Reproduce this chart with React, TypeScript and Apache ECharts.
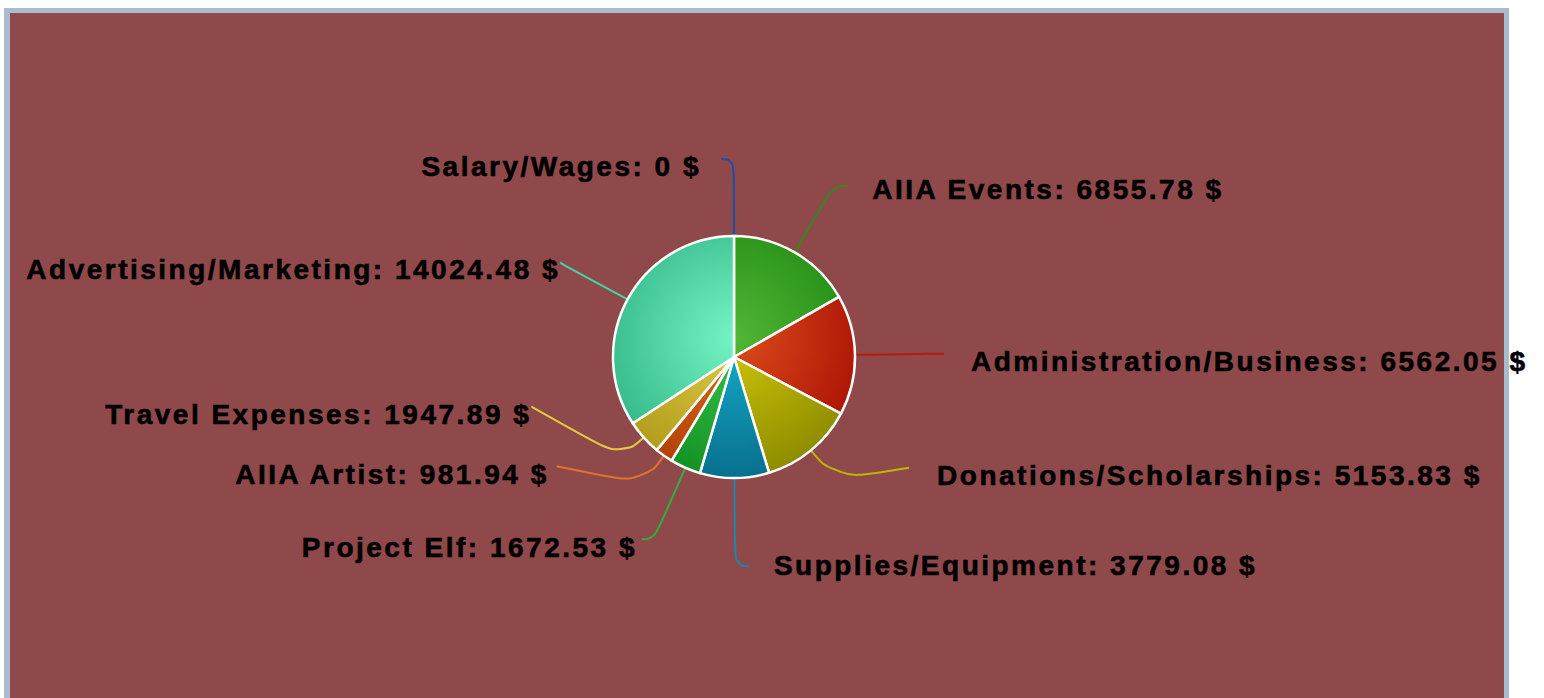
import React, { useEffect, useRef } from "react";
import * as echarts from "echarts";

// ---- data ----
const categories = [
  "Salary/Wages",
  "AIIA Events",
  "Administration/Business",
  "Donations/Scholarships",
  "Supplies/Equipment",
  "Project Elf",
  "AIIA Artist",
  "Travel Expenses",
  "Advertising/Marketing",
];
const amounts = [0, 6855.78, 6562.05, 5153.83, 3779.08, 1672.53, 981.94, 1947.89, 14024.48];
const currency = "$";

// ---- styles ----
const lightColors = ["#3a6ad0", "#52b636", "#dc4c1c", "#cfc708", "#14aecb", "#3cc44c", "#de6a1e", "#ddcd46", "#74f4c4"];
const darkColors = ["#143c96", "#1f8a12", "#aa1204", "#8e8c00", "#08708f", "#139224", "#b24206", "#b39c1c", "#34b888"];
const lineColors = ["#1c4ea8", "#2a8c1c", "#b81c08", "#bcb800", "#1a88a8", "#2cb042", "#e07428", "#e2cc3e", "#44d4a2"];
const lineLen = [77, 77, 77, 38, 88, 78, 35, 30, 71];
const lineLen2 = [13, 14, 12, 74, 14, 12, 87, 90, 5];
const labelGap = [20, 25, 27, 28, 25, 5, 8, 0, 0];
const labelShiftY = [7, 4, 8, -4, 0, 8, -10, -43, 4];
const lineEndShiftY = [0, 0, 0, -12, 0, 0, -18, -51, -3];

export default function App() {
  const ref = useRef<HTMLDivElement>(null);

  useEffect(() => {
    if (!ref.current) return;
    const chart = echarts.init(ref.current, undefined, { renderer: "svg" });
    const cx = 734;
    const cy = 357;
    const data = categories.map((name, i) => ({
      name,
      value: amounts[i],
      itemStyle: {
        color: new echarts.graphic.RadialGradient(
          cx,
          cy - 20,
          140,
          [
            { offset: 0, color: lightColors[i] },
            { offset: 1, color: darkColors[i] },
          ],
          true
        ),
      },
      label: { distanceToLabelLine: labelGap[i] },
      labelLine: {
        length: lineLen[i],
        length2: lineLen2[i],
        lineStyle: { color: lineColors[i], width: 2 },
      },
    }));
    chart.setOption({
      animation: false,
      backgroundColor: "transparent",
      series: [
        {
          type: "pie",
          center: [cx, cy],
          radius: 121,
          startAngle: 90.0001,
          clockwise: true,
          avoidLabelOverlap: false,
          itemStyle: { borderColor: "#ffffff", borderWidth: 2.5 },
          label: {
            show: true,
            position: "outside",
            overflow: "none",
            color: "#000000",
            fontSize: 28,
            fontWeight: "bold",
            fontFamily: "'Liberation Sans', Arial, sans-serif",
            textBorderColor: "#000000",
            textBorderWidth: 0.6,
            formatter: (p: any) => `${p.name}: ${p.value} ${currency}`,
          },
          labelLine: { show: true, smooth: 0.5 },
          labelLayout: (params: any) => {
            const i = params.dataIndex;
            const pts = params.labelLinePoints
              ? params.labelLinePoints.map((p: number[]) => [p[0], p[1]])
              : undefined;
            if (pts && pts.length === 3) {
              pts[2][1] += lineEndShiftY[i];
            }
            const out: any = { dy: labelShiftY[i] };
            if (pts) out.labelLinePoints = pts;
            return out;
          },
          emphasis: { disabled: true },
          data,
        },
      ],
    });
    return () => chart.dispose();
  }, []);

  return (
    <>
      <style>{`.pie-chart text { letter-spacing: 2.5px; }`}</style>
      <div
        style={{
          position: "absolute",
          left: 4,
          top: 8,
          width: 1505,
          height: 700,
          background: "#a9bccf",
        }}
      />
      <div
        style={{
          position: "absolute",
          left: 10,
          top: 13,
          width: 1494,
          height: 700,
          background: "#8f494b",
        }}
      />
      <div
        ref={ref}
        className="pie-chart"
        style={{ position: "absolute", left: 0, top: 0, width: 1544, height: 698 }}
      />
    </>
  );
}
